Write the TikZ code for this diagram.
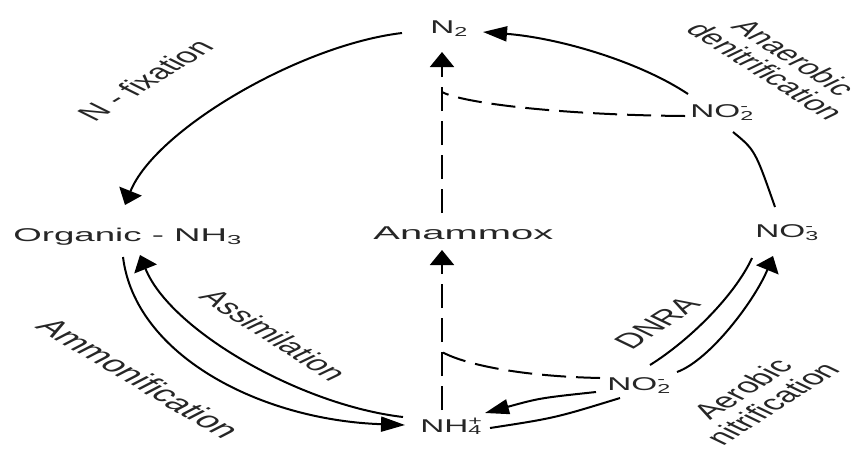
\documentclass[tikz,border=0pt]{standalone}
\usepackage{fontspec}
\setmainfont{Liberation Sans}
\usetikzlibrary{arrows.meta}
\newcommand\chemion[2]{\rlap{\textsuperscript{#2}}\textsubscript{#1}}
\begin{document}
\begin{tikzpicture}[x=1pt,y=-1pt,
  lbl/.style={font=\fontsize{18.5}{20}\selectfont, text=black!85, inner sep=0pt, anchor=base west, xscale=1.8},
  rlbl/.style={font=\fontsize{21}{22}\selectfont, text=black!85, inner sep=0pt, align=center},
  conn/.style={line width=2pt, black},
  dashline/.style={conn, dash pattern=on 24pt off 10pt},
  varr/.style={-{Triangle[length=15pt,width=24pt]}},
  harr/.style={-{Triangle[length=24pt,width=15pt]}}]
\useasboundingbox (0,0) rectangle (861,448);
% species
\node[lbl] (n2)   at (430,33)  {N\textsubscript{2}};
\node[lbl, xscale=1.1] (org)  at (13,241)  {Organic - NH\textsubscript{3}};
\node[lbl, xscale=1.2] (anam) at (373,239) {Anammox};
\node[lbl] (no3)  at (755,237) {NO\chemion{3}{-}};
\node[lbl] (no2a) at (690,117) {NO\chemion{2}{-}};
\node[lbl] (no2b) at (607,390) {NO\chemion{2}{-}};
\node[lbl] (nh4)  at (420,432) {NH\chemion{4}{+}};
\coordinate (ja) at (442,92);
\coordinate (jb) at (442,352);
% process labels
\node[rlbl, xscale=1.8, rotate=48]  (lfix)  at (145,80)  {N - fixation};
\node[rlbl, font=\fontsize{20.5}{21}\selectfont, xscale=1.8, rotate=-49] (lden)  at (780,64)  {Anaerobic\\denitrification};
\node[rlbl, xscale=1.8, rotate=-49] (lass)  at (274,335) {Assimilation};
\node[rlbl, font=\fontsize{22.5}{24}\selectfont, xscale=1.8, rotate=-47] (lamm)  at (139,378) {Ammonification};
\node[rlbl, xscale=1.8, rotate=49]  (ldnra) at (657,323) {DNRA};
\node[rlbl, xscale=1.8, rotate=49]  (laer)  at (757,396) {Aerobic\\nitrification};
% N-fixation
\draw[conn,varr] ([shift={(-28,0)}]n2.base west) .. controls (300,45) and (155,130) .. ([shift={(112,-36)}]org.base west);
% anaerobic denitrification
\draw[conn,harr] ([shift={(-2,-23)}]no2a.base west) .. controls (640,62) and (560,38) .. ([shift={(53,-1)}]n2.base west);
\draw[conn] ([shift={(20,-30)}]no3.base west) .. controls (755,150) .. ([shift={(43,15)}]no2a.base west);
% assimilation / ammonification
\draw[conn,varr] ([shift={(-17,-15)}]nh4.base west) .. controls (300,405) and (170,330) .. ([shift={(127,14)}]org.base west);
\draw[conn,harr] ([shift={(110,16)}]org.base west) .. controls (135,355) and (260,420) .. ([shift={(-15,-7)}]nh4.base west);
% DNRA
\draw[conn] ([shift={(-3,21)}]no3.base west) .. controls (735,295) and (690,340) .. ([shift={(43,-25)}]no2b.base west);
\draw[conn,harr] ([shift={(-11,2)}]no2b.base west) .. controls (540,398) .. ([shift={(65,-19)}]nh4.base west);
% aerobic nitrification
\draw[conn] ([shift={(70,-4)}]nh4.base west) .. controls (555,418) .. ([shift={(13,8)}]no2b.base west);
\draw[conn,varr] ([shift={(70,-18)}]no2b.base west) .. controls (710,360) and (755,300) .. ([shift={(18,19)}]no3.base west);
% anammox
\draw[dashline,varr] ([shift={(22,-22)}]nh4.base west) -- ([shift={(69,11)}]anam.base west);
\draw[dashline,varr] ([shift={(69,-26)}]anam.base west) -- ([shift={(12,19)}]n2.base west);
\draw[dashline] ([shift={(-7,-12)}]no2b.base west) .. controls (510,376) and (460,362) .. (jb);
\draw[dashline] ([shift={(-5,-1)}]no2a.base west) .. controls (560,115) and (462,103) .. (ja);
\end{tikzpicture}
\end{document}
